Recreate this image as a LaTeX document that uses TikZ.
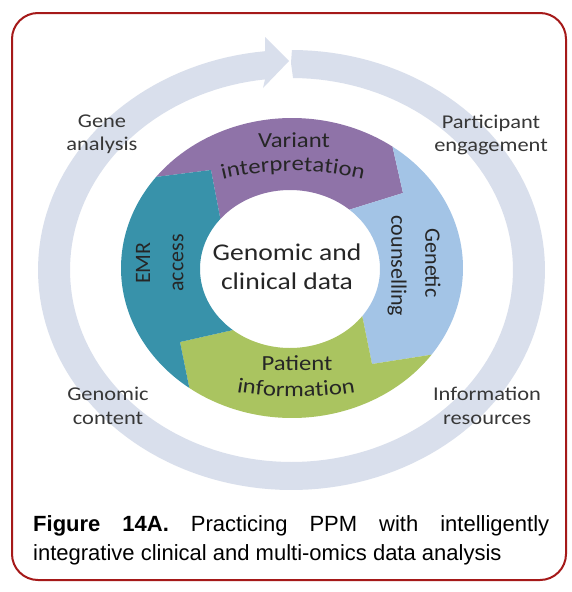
\documentclass[tikz,border=0pt]{standalone}
\usepackage{fontspec}
\usetikzlibrary{decorations.text,calc}
\newfontfamily\carl[FakeStretch=1.15]{Carlito}
\newfontfamily\carlr{Carlito}
\newfontfamily\capfont{Liberation Sans}
\definecolor{ringc}{RGB}{217,223,236}
\definecolor{purp}{RGB}{143,115,168}
\definecolor{tealc}{RGB}{56,146,170}
\definecolor{bluec}{RGB}{163,196,230}
\definecolor{greenc}{RGB}{170,196,96}
\definecolor{framec}{RGB}{165,25,25}
\definecolor{segtxt}{RGB}{38,38,38}
\definecolor{lblc}{RGB}{55,55,55}
\newcommand{\segfont}{\carl\fontsize{21.5}{25}\selectfont}
\begin{document}
\begin{tikzpicture}[x=1pt,y=-1pt,
  lbl/.style={font=\carl\fontsize{19.5}{23.5}\selectfont, text=lblc, align=center, inner sep=0pt},
  seg/.style={font=\segfont, text=segtxt, align=center, inner sep=0pt},
  rseg/.style={font=\carlr\fontsize{22}{26}\selectfont, text=segtxt, inner sep=0pt},
  captxt/.style={font=\capfont\fontsize{22}{29}\selectfont, text=black, inner sep=0pt, anchor=base west}]
\useasboundingbox (0,0) rectangle (572,592);
\fill[white] (0,0) rectangle (572,592);
\draw[framec, line width=2pt, rounded corners=26pt] (12,13) rectangle (566,580);
% outer circular arrow
\fill[ringc] plot[domain=-89.9:264, samples=160] ({291.5+253.5*cos(\x)},{270+220*sin(\x)})
  -- (265,37) -- (289,61) -- (263,88)
  -- plot[domain=263.13:-89.6, samples=160] ({291.5+221.5*cos(\x)},{270+192*sin(\x)})
  -- (291,63) -- cycle;
% purple
\fill[purp] plot[domain=-142.6:-54, samples=60] ({292+171*cos(\x)},{268+150*sin(\x)})
  -- (403,193)
  -- plot[domain=-48.7:-140.7, samples=60] ({290+90*cos(\x)},{269+79*sin(\x)})
  -- (211,170) -- cycle;
% blue
\fill[bluec] plot[domain=-54:35.3, samples=60] ({292+171*cos(\x)},{268+150*sin(\x)})
  -- (372,364)
  -- plot[domain=36.6:-48.7, samples=60] ({290+90*cos(\x)},{269+79*sin(\x)})
  -- (403,193) -- cycle;
% green
\fill[greenc] plot[domain=35.3:126.9, samples=60] ({292+171*cos(\x)},{268+150*sin(\x)})
  -- (180,342)
  -- plot[domain=129.4:36.6, samples=60] ({290+90*cos(\x)},{269+79*sin(\x)})
  -- (372,364) -- cycle;
% teal
\fill[tealc] plot[domain=126.9:217.4, samples=60] ({292+171*cos(\x)},{268+150*sin(\x)})
  -- (211,170)
  -- plot[domain=219.3:129.4, samples=60] ({290+90*cos(\x)},{269+79*sin(\x)})
  -- (180,342) -- cycle;
% segment texts
\node[seg] (variant) at (294,140) {Variant};
\path[decorate, decoration={text along path, text align=center, text color=segtxt,
  text={|\segfont|interpretation}}]
  plot[domain=-110:-70, samples=60] ({293+306*cos(\x)},{477+306*sin(\x)});
\node[rseg, rotate=90] (emr) at (143,263) {EMR};
\node[rseg, rotate=90] (access) at (178,263) {access};
\node[rseg, rotate=-90] (genetic) at (433,263) {Genetic};
\node[rseg, rotate=-90] (couns) at (397,266) {counselling};
\node[seg] (patient) at (297,363) {Patient};
\path[decorate, decoration={text along path, text align=center, text color=segtxt,
  text={|\segfont|information}}]
  plot[domain=108:72, samples=60] ({296+360*cos(\x)},{37+360*sin(\x)});
% centre
\node[font=\carl\fontsize{24}{28.5}\selectfont, text=segtxt, align=center, inner sep=0pt] (centre) at (287,267) {Genomic and\\clinical data};
% outer labels
\node[lbl] (gene) at (102,134) {Gene\\analysis};
\node[lbl] (part) at (491,135) {Participant\\engagement};
\node[lbl] (genomic) at (108,406) {Genomic\\content};
\node[lbl] (info) at (487,406) {Information\\resources};
% caption
\node[captxt] (cap1) at (33,531) {\makebox[516pt][l]{\textbf{Figure}\hfill\textbf{14A.}\hfill Practicing\hfill PPM\hfill with\hfill intelligently}};
\node[captxt] (cap2) at (33,560) {integrative clinical and multi-omics data analysis};
\end{tikzpicture}
\end{document}
